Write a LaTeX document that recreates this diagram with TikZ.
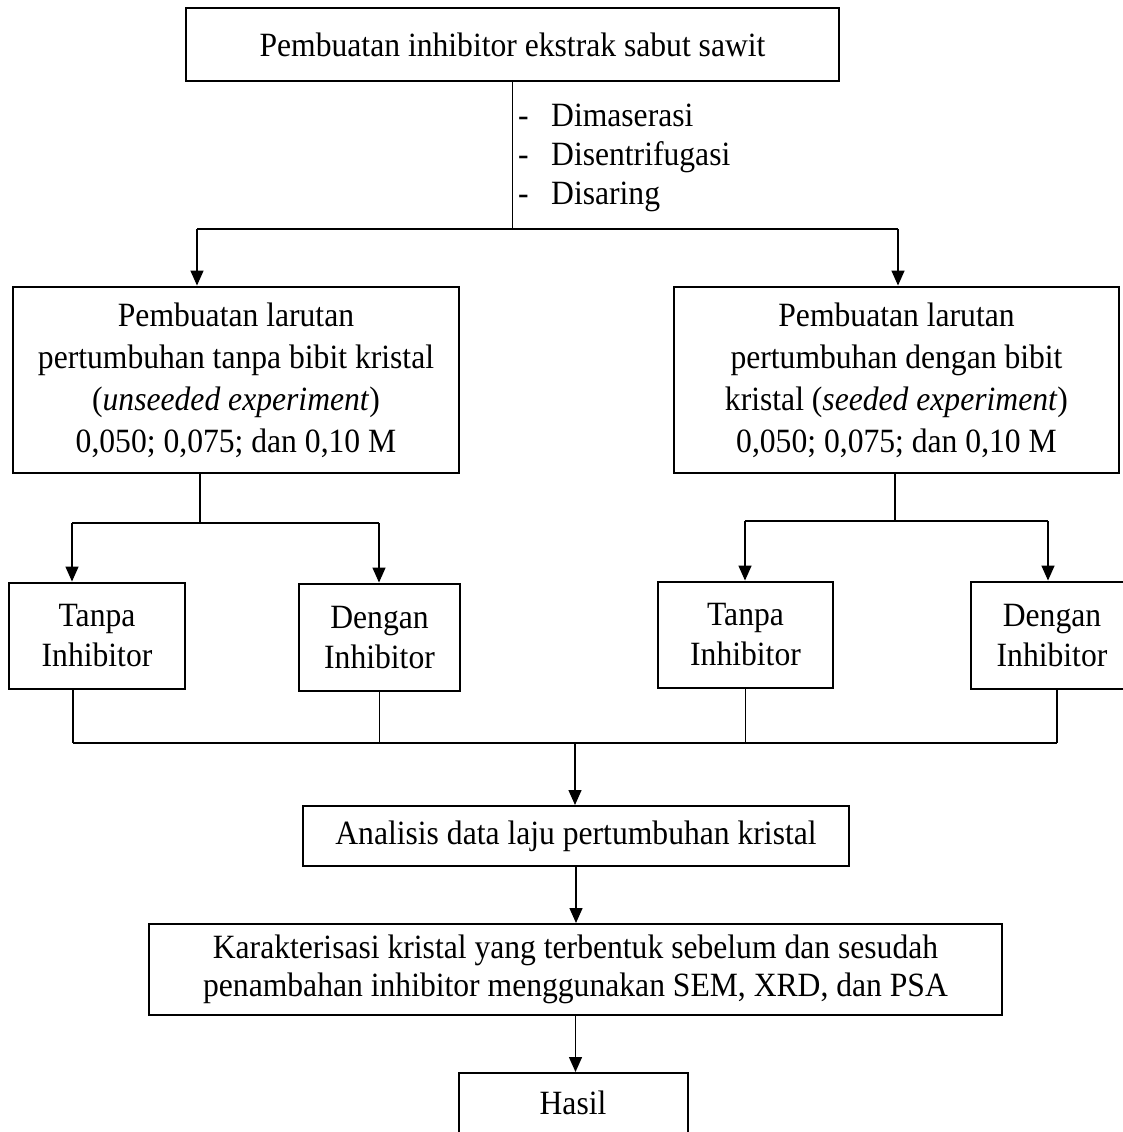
\documentclass[tikz,border=0pt]{standalone}
\usepackage{fontspec}
\setmainfont{Liberation Serif}[FakeStretch=0.93]
\usetikzlibrary{arrows.meta}
\begin{document}
\begin{tikzpicture}[x=1pt,y=-1pt,
  box/.style={draw, line width=2.9pt, rectangle, inner sep=0pt, align=center, font=\fontsize{34}{40}\selectfont},
  thinbox/.style={box, line width=2pt},
  conn/.style={line width=1.4pt},
  arr/.style={conn, -{Triangle[length=15pt,width=13pt]}}]
\useasboundingbox (0,0) rectangle (1123,1132);
\clip (0,0) rectangle (1123,1132);

\node[box, minimum width=653pt, minimum height=73pt] (top) at (512.5,44.5) {Pembuatan inhibitor ekstrak sabut sawit};
\node[anchor=west, align=left, inner sep=0pt, font=\fontsize{34}{39}\selectfont] (list) at (518,158)
  {\makebox[33pt][l]{-}Dimaserasi\\\makebox[33pt][l]{-}Disentrifugasi\\\makebox[33pt][l]{-}Disaring};

\node[box, font=\fontsize{34}{42}\selectfont, minimum width=446pt, minimum height=186pt] (L) at (236,380)
  {Pembuatan larutan\\pertumbuhan tanpa bibit kristal\\(\textit{unseeded experiment})\\0,050; 0,075; dan 0,10 M};
\node[box, font=\fontsize{34}{42}\selectfont, minimum width=445pt, minimum height=186pt] (R) at (896.5,380)
  {Pembuatan larutan\\pertumbuhan dengan bibit\\kristal (\textit{seeded experiment})\\0,050; 0,075; dan 0,10 M};

\node[box, minimum width=176pt, minimum height=106pt] (LT) at (97,636) {Tanpa\\Inhibitor};
\node[box, minimum width=161pt, minimum height=107pt] (LD) at (379.5,637.5) {Dengan\\Inhibitor};
\node[box, minimum width=175pt, minimum height=106pt] (RT) at (745.5,635) {Tanpa\\Inhibitor};
\node[box, minimum width=162pt, minimum height=107pt] (RD) at (1052,635.5) {Dengan\\Inhibitor};

\node[thinbox, minimum width=546pt, minimum height=60pt] (A) at (576,836) {Analisis data laju pertumbuhan kristal};
\node[thinbox, font=\fontsize{34}{38}\selectfont, minimum width=853pt, minimum height=91pt] (K) at (575.5,969.5)
  {Karakterisasi kristal yang terbentuk sebelum dan sesudah\\penambahan inhibitor menggunakan SEM, XRD, dan PSA};
\node[thinbox, minimum width=229pt, minimum height=60pt] (H) at (573,1103) {Hasil};

% top branch
\coordinate (j0) at (512.5,229);
\coordinate (jl) at (197,229);
\coordinate (jr) at (898,229);
\draw[conn] (top.south) -- (j0);
\draw[conn] (jl) -- (jr);
\draw[arr] (jl) -- (jl |- L.north);
\draw[arr] (jr) -- (jr |- R.north);

% left branch
\coordinate (lj) at (200,523);
\coordinate (lja) at (72,523);
\coordinate (ljb) at (379,523);
\draw[conn] (L.south -| lj) -- (lj);
\draw[conn] (lja) -- (ljb);
\draw[arr] (lja) -- (lja |- LT.north);
\draw[arr] (ljb) -- (ljb |- LD.north);

% right branch
\coordinate (rj) at (895,521);
\coordinate (rja) at (745,521);
\coordinate (rjb) at (1048,521);
\draw[conn] (R.south -| rj) -- (rj);
\draw[conn] (rja) -- (rjb);
\draw[arr] (rja) -- (rja |- RT.north);
\draw[arr] (rjb) -- (rjb |- RD.north);

% merge
\coordinate (ba) at (73,743);
\coordinate (bd) at (1057,743);
\coordinate (bm) at (575,743);
\draw[conn] (LT.south -| ba) -- (ba);
\draw[conn] (LD.south) -- (LD.south |- ba);
\draw[conn] (RT.south) -- (RT.south |- ba);
\draw[conn] (RD.south -| bd) -- (bd);
\draw[conn] (ba) -- (bd);
\draw[arr] (bm) -- (bm |- A.north);
\draw[arr] (A.south) -- (A.south |- K.north);
\draw[arr] (K.south) -- (K.south |- H.north);
\end{tikzpicture}
\end{document}
